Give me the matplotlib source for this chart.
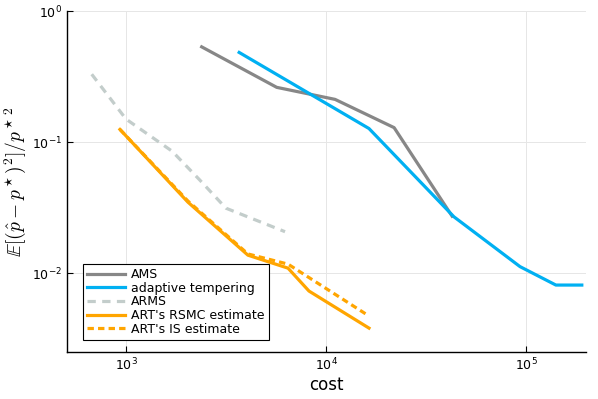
import matplotlib
matplotlib.use("Agg")
import matplotlib.pyplot as plt
import numpy as np

plt.rcParams['mathtext.fontset'] = 'cm'
plt.rcParams['font.family'] = ['DejaVu Sans']

# data
ams_cost = [2390, 5670, 11100, 21900, 42700]
ams_err = [0.534, 0.262, 0.212, 0.129, 0.0272]

at_cost = [3680, 16400, 43600, 93300, 141000, 190000]
at_err = [0.484, 0.127, 0.0269, 0.0112, 0.0081, 0.0081]

arms_cost = [674, 1000, 1700, 2340, 3160, 6240]
arms_err = [0.330, 0.150, 0.0853, 0.0513, 0.0313, 0.0207]

rsmc_cost = [933, 2040, 4070, 6460, 8220, 16400]
rsmc_err = [0.125, 0.0348, 0.0137, 0.0109, 0.00729, 0.0038]

is_cost = [933, 2040, 4070, 6460, 16400]
is_err = [0.125, 0.0355, 0.0140, 0.0117, 0.0047]

fig = plt.figure(figsize=(5.98, 3.99), dpi=100)
ax = fig.add_axes([0.112, 0.118, 0.868, 0.854])

lw = 2.3
ax.plot(ams_cost, ams_err, color='#878787', lw=lw, label='AMS')
ax.plot(at_cost, at_err, color='#00b0f2', lw=lw, label='adaptive tempering')
ax.plot(arms_cost, arms_err, color='#c3cdcb', lw=lw, ls=(0, (2.6, 2.0)), label='ARMS')
ax.plot(rsmc_cost, rsmc_err, color='#ffa500', lw=lw, label="ART's RSMC estimate")
ax.plot(is_cost, is_err, color='#ffa500', lw=lw, ls=(0, (2.0, 1.3)), label="ART's IS estimate")

ax.set_xscale('log')
ax.set_yscale('log')
ax.set_xlim(507, 199500)
ax.set_ylim(0.0025, 1.0)
ax.minorticks_off()
ax.set_xticks([1e3, 1e4, 1e5])
ax.set_yticks([1e-2, 1e-1, 1e0])

ax.grid(True, color='#e6e6e6', lw=0.7)
ax.set_axisbelow(True)
for s in ['top', 'right']:
    ax.spines[s].set_visible(False)
for s in ['left', 'bottom']:
    ax.spines[s].set_linewidth(1.0)
ax.tick_params(direction='in', length=4, width=0.8, labelsize=9)

ax.set_xlabel('cost', fontsize=12, labelpad=2)
ax.set_ylabel(r'$\mathbb{E}[(\hat{p}-p^\star)^2]/{p^\star}^2$', fontsize=14, labelpad=3)

leg = ax.legend(loc='lower left', bbox_to_anchor=(0.031, 0.035), fontsize=9,
                frameon=True, fancybox=False, edgecolor='black', framealpha=1,
                handlelength=3.0, labelspacing=0.05, handletextpad=0.5,
                borderpad=0.35, borderaxespad=0)
leg.get_frame().set_linewidth(0.8)

fig.savefig('out.png', dpi=100)
